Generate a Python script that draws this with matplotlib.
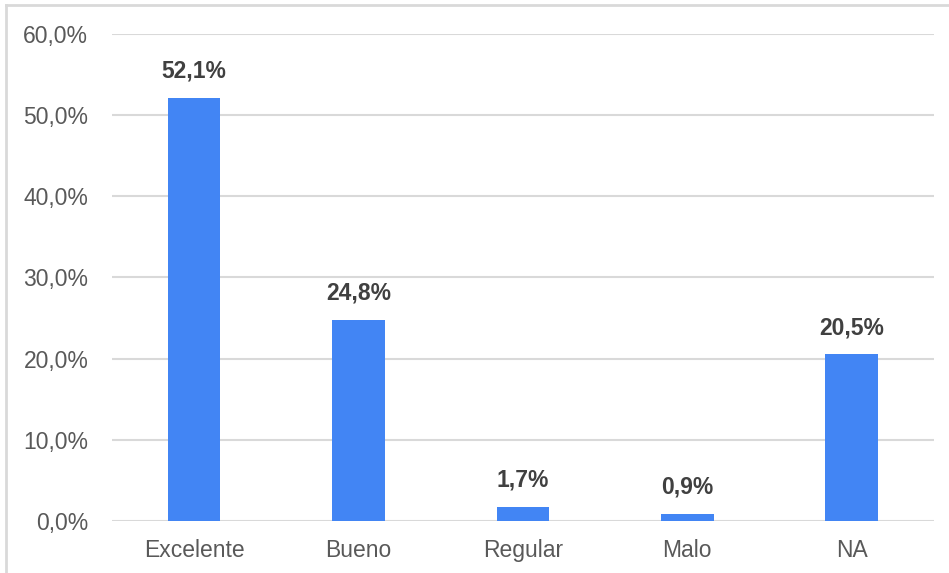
import matplotlib.pyplot as plt
from matplotlib.lines import Line2D
from matplotlib.ticker import FuncFormatter

categorias = ['Excelente', 'Bueno', 'Regular', 'Malo', 'NA']
valores = [52.1, 24.8, 1.7, 0.9, 20.5]

plt.rcParams['font.family'] = ['Liberation Sans', 'DejaVu Sans']

fig = plt.figure(figsize=(9.49, 5.73), dpi=100)
ax = fig.add_axes([0.118, 0.091, 0.866, 0.850])

x = range(len(categorias))
ax.bar(x, valores, width=0.32, color='#4285f4', zorder=3)

for i, v in enumerate(valores):
    ax.text(i, v + 1.9, f'{v:.1f}%'.replace('.', ','), ha='center', va='bottom',
            fontsize=16.5, fontweight='bold', color='#404040')

ax.set_xlim(-0.5, len(categorias) - 0.5)
ax.set_ylim(0, 60)
ax.set_yticks(range(0, 61, 10))
ax.yaxis.set_major_formatter(FuncFormatter(lambda v, p: f'{v:.1f}%'.replace('.', ',')))
ax.set_xticks(list(x))
ax.set_xticklabels(categorias)
ax.tick_params(axis='both', length=0, labelsize=16.5, labelcolor='#595959')
ax.tick_params(axis='y', pad=17)
ax.tick_params(axis='x', pad=13)
ax.grid(axis='y', color='#d9d9d9', linewidth=1.5, zorder=0)
for s in ax.spines.values():
    s.set_visible(False)

# marco del grafico (solo arriba e izquierda visibles)
fig.add_artist(Line2D([0.006, 1.0], [0.992, 0.992], color='#d9d9d9', linewidth=2))
fig.add_artist(Line2D([0.006, 0.006], [0.0, 0.992], color='#d9d9d9', linewidth=2))

fig.savefig('out.png', dpi=100)
